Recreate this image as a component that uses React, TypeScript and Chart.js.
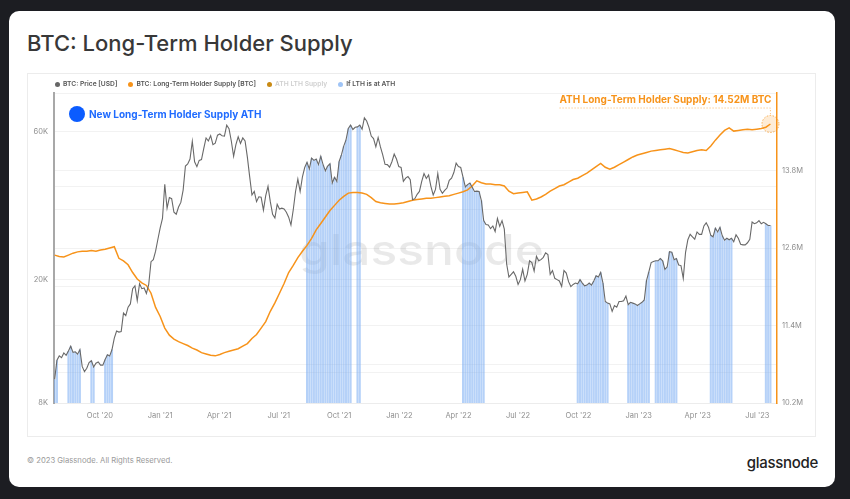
import React, { useEffect, useRef } from "react";
import { Chart, registerables } from "chart.js";
Chart.register(...registerables);

// ---------- data ----------
const START_DATE = [2020, 6, 24]; // first weekly sample (Jul 24, 2020)
const STEP_DAYS = 7;
const MID_OFFSET_DAYS = 3.5;
const X_MIN_DATE = [2020, 6, 23];
const X_MAX_DATE = [2023, 6, 31];
const QUARTER_TICKS = [
  [2020, 9, 1], [2021, 0, 1], [2021, 3, 1], [2021, 6, 1], [2021, 9, 1], [2022, 0, 1],
  [2022, 3, 1], [2022, 6, 1], [2022, 9, 1], [2023, 0, 1], [2023, 3, 1], [2023, 6, 1],
];
const MONTHS = ["Jan", "Feb", "Mar", "Apr", "May", "Jun", "Jul", "Aug", "Sep", "Oct", "Nov", "Dec"];

// BTC price [USD], weekly samples
const priceUSD = [
  9550, 11350, 11600, 11780, 11650, 11500, 10500, 10350, 10950, 10750,
  10600, 11050, 11350, 12950, 13550, 15600, 16300, 18700, 17100, 18700,
  18050, 22850, 24700, 29400, 40600, 36800, 33000, 34300, 38900, 47200,
  55900, 46300, 48800, 57300, 58300, 55100, 59000, 58100, 61400, 50000,
  57800, 57300, 49700, 37500, 35700, 36900, 37300, 35700, 31600, 33800,
  33800, 31800, 33600, 42200, 42900, 47800, 49300, 49000, 50000, 44900,
  47300, 42800, 48100, 53900, 61500, 61000, 62200, 61100, 65000, 58100,
  53600, 53600, 47100, 46100, 50800, 46300, 41500, 43000, 36200, 37700,
  41500, 42400, 40000, 39100, 39100, 38800, 41800, 44300, 46300, 42800,
  40500, 39700, 38600, 36000, 30100, 29200, 28600, 29700, 29100, 20400,
  21200, 19300, 21600, 20800, 22700, 23800, 23200, 24400, 20800, 20200,
  19800, 21400, 19700, 19300, 19400, 19500, 19200, 19200, 20600, 21100,
  17000, 16700, 16500, 17000, 17100, 16600, 16800, 16500, 16900, 19900,
  22700, 23000, 23400, 21600, 24600, 23200, 22300, 20200, 26900, 27500,
  28500, 28000, 30500, 27800, 29300, 29500, 26800, 26900, 26500, 27200,
  25900, 26300, 30700, 30500, 30300, 30300, 29900,
];

// BTC price [USD], mid-week samples (between weekly sample i and i+1)
const priceMidWeek = [
  11000, 11200, 11400, 12200, 11700, 11900, 10100, 10800, 10450, 10850,
  10600, 11450, 11900, 13650, 13600, 15300, 16700, 19100, 19400, 18800,
  19300, 23200, 27000, 31500, 34000, 36500, 32500, 35500, 46500, 49000,
  48000, 48500, 53000, 56000, 54500, 58500, 58200, 63000, 56000, 54500,
  55000, 56000, 43000, 38500, 37000, 33500, 40000, 32500, 35000, 34000,
  33000, 30000, 38500, 38500, 46000, 45500, 48500, 47000, 47000, 46500,
  41000, 41500, 50500, 56500, 63000, 62000, 63000, 66500, 62000, 57000,
  57500, 50500, 47000, 48000, 49000, 46000, 42500, 42000, 36500, 38500,
  44000, 43500, 37500, 44000, 38000, 39500, 42500, 47500, 46000, 39800,
  41000, 38500, 38500, 31000, 30000, 29800, 31500, 31000, 22500, 20800,
  20500, 20000, 19800, 23000, 21300, 23000, 23600, 24100, 21400, 20000,
  19000, 21000, 19000, 19500, 20000, 19100, 19500, 19800, 20400, 19500,
  16800, 15800, 16300, 17000, 17700, 16900, 16700, 16700, 17200, 21200,
  22900, 23000, 23000, 22000, 24500, 23400, 22200, 24500, 28000, 27000,
  28000, 29800, 29500, 27500, 28500, 27700, 27200, 27200, 27900, 26000,
  25900, 27000, 30300, 31000, 30600, 29900,
];

// Long-Term Holder supply [M BTC], weekly samples
const lthSupplyM = [
  12.49, 12.47, 12.46, 12.49, 12.52, 12.54, 12.55, 12.55, 12.56, 12.55,
  12.57, 12.58, 12.6, 12.62, 12.44, 12.4, 12.34, 12.22, 12.12, 12.06,
  12.02, 11.9, 11.68, 11.54, 11.36, 11.25, 11.19, 11.15, 11.12, 11.09,
  11.05, 11.02, 10.98, 10.96, 10.94, 10.93, 10.95, 10.98, 11.0, 11.02,
  11.04, 11.08, 11.12, 11.2, 11.26, 11.36, 11.46, 11.62, 11.75, 11.9,
  12.05, 12.22, 12.33, 12.45, 12.55, 12.64, 12.75, 12.88, 12.98, 13.08,
  13.18, 13.26, 13.34, 13.4, 13.45, 13.46, 13.46, 13.45, 13.43, 13.38,
  13.32, 13.3, 13.29, 13.28, 13.28, 13.29, 13.3, 13.32, 13.34, 13.35,
  13.36, 13.37, 13.37, 13.38, 13.39, 13.4, 13.41, 13.43, 13.45, 13.47,
  13.5, 13.56, 13.64, 13.61, 13.59, 13.59, 13.58, 13.58, 13.56, 13.48,
  13.44, 13.45, 13.46, 13.47, 13.34, 13.36, 13.39, 13.43, 13.48, 13.52,
  13.56, 13.58, 13.62, 13.66, 13.68, 13.72, 13.76, 13.81, 13.86, 13.91,
  13.85, 13.82, 13.85, 13.89, 13.93, 13.97, 14.01, 14.04, 14.06, 14.08,
  14.1, 14.11, 14.12, 14.13, 14.14, 14.12, 14.1, 14.08, 14.07, 14.09,
  14.11, 14.12, 14.11, 14.18, 14.27, 14.35, 14.42, 14.46, 14.41, 14.42,
  14.43, 14.44, 14.43, 14.44, 14.45, 14.47, 14.52,
];

// weeks (index ranges, inclusive) when LTH supply is at its ATH
const athWeekRanges = [
  [0, 0], [3, 5], [8, 8], [11, 12], [55, 64], [66, 66], [89, 93],
  [114, 120], [125, 129], [131, 135], [143, 147], [155, 156],
];

const ATH_VALUE_M = 14.52;
const LEFT_GRID = [8000, 10000, 20000, 40000, 60000];
const LEFT_LABELS: Record<number, string> = { 8000: "8K", 20000: "20K", 60000: "60K" };
const RIGHT_GRID = [10.2, 10.8, 11.4, 12.0, 12.6, 13.2, 13.8, 14.4, 15.0];
const RIGHT_LABELED = [10.2, 11.4, 12.6, 13.8];

// ---------- helpers ----------
const MS_DAY = 86400000;
const dayOf = (ymd: number[]) => Date.UTC(ymd[0], ymd[1], ymd[2]) / MS_DAY;
const weekDays = priceUSD.map((_, i) => dayOf(START_DATE) + i * STEP_DAYS);
const isAthWeek = (i: number) => athWeekRanges.some(([a, b]) => i >= a && i <= b);

type Sample = { x: number; y: number; ath: boolean };
const priceSamples: Sample[] = [];
priceUSD.forEach((p, i) => {
  priceSamples.push({ x: weekDays[i], y: p, ath: isAthWeek(i) });
  if (i < priceMidWeek.length) {
    priceSamples.push({ x: weekDays[i] + MID_OFFSET_DAYS, y: priceMidWeek[i], ath: isAthWeek(i) });
  }
});

const fmtQuarter = (v: number) => {
  const d = new Date(v * MS_DAY);
  return `${MONTHS[d.getUTCMonth()]} '${String(d.getUTCFullYear()).slice(2)}`;
};

const ORANGE = "#f7931a";
const TICK_FONT = { family: "Inter, 'Noto Sans', sans-serif", size: 7.5 };
const TICK_COLOR = "#8e8e8e";

const watermarkPlugin = {
  id: "watermark",
  beforeDatasetsDraw(chart: any) {
    const { ctx, chartArea } = chart;
    ctx.save();
    ctx.font = "500 42px Inter, 'Noto Sans', sans-serif";
    const w = ctx.measureText("glassnode").width;
    const target = 245;
    const cx = (chartArea.left + chartArea.right) / 2 + 6;
    const base = chartArea.top + 172;
    ctx.translate(cx, base);
    ctx.scale(target / w, 1);
    ctx.fillStyle = "rgba(0,0,0,0.085)";
    ctx.textAlign = "center";
    ctx.textBaseline = "alphabetic";
    ctx.fillText("glassnode", 0, 0);
    ctx.restore();
  },
};

const athMarkerPlugin = {
  id: "athMarker",
  afterDatasetsDraw(chart: any) {
    const { ctx } = chart;
    const lastDay = weekDays[weekDays.length - 1];
    const px = chart.scales.x.getPixelForValue(lastDay);
    const py = chart.scales.y1.getPixelForValue(ATH_VALUE_M);
    const r = 8.5;
    ctx.save();
    ctx.beginPath();
    ctx.arc(px, py, r, 0, Math.PI * 2);
    ctx.fillStyle = "rgba(247,147,26,0.18)";
    ctx.fill();
    ctx.setLineDash([1.5, 1.5]);
    ctx.strokeStyle = "rgba(247,147,26,0.7)";
    ctx.lineWidth = 1;
    ctx.stroke();
    const label = `ATH Long-Term Holder Supply: ${ATH_VALUE_M.toFixed(2)}M BTC`;
    ctx.setLineDash([]);
    ctx.font = "700 10px Inter, 'Noto Sans', sans-serif";
    ctx.fillStyle = ORANGE;
    ctx.textAlign = "right";
    ctx.textBaseline = "middle";
    const ty = py - 24;
    ctx.fillText(label, px + 1, ty);
    const tw = ctx.measureText(label).width;
    ctx.setLineDash([1.2, 1.8]);
    ctx.strokeStyle = "rgba(247,147,26,0.7)";
    ctx.lineWidth = 0.8;
    ctx.beginPath();
    ctx.moveTo(px + 1 - tw, ty + 8);
    ctx.lineTo(px, ty + 8);
    ctx.lineTo(px, py - r);
    ctx.stroke();
    ctx.restore();
  },
};

function LthChart() {
  const ref = useRef<HTMLCanvasElement | null>(null);
  useEffect(() => {
    if (!ref.current) return;
    const chart = new Chart(ref.current, {
      type: "line",
      data: {
        datasets: [
          {
            type: "line",
            label: "BTC: Price [USD]",
            data: priceSamples.map((s) => ({ x: s.x, y: s.y })),
            yAxisID: "y",
            borderColor: "#696969",
            borderWidth: 1.1,
            pointRadius: 0,
            tension: 0,
            order: 1,
          },
          {
            type: "line",
            label: "BTC: Long-Term Holder Supply [BTC]",
            data: weekDays.map((x, i) => ({ x, y: lthSupplyM[i] })),
            yAxisID: "y1",
            borderColor: ORANGE,
            borderWidth: 1.5,
            pointRadius: 0,
            tension: 0,
            order: 2,
          },
          {
            type: "bar",
            label: "If LTH is at ATH",
            data: priceSamples.map((s) => ({ x: s.x, y: s.ath ? s.y : null })),
            yAxisID: "y",
            backgroundColor: "rgba(120,172,242,0.55)",
            borderWidth: 0,
            barPercentage: 0.9,
            categoryPercentage: 1,
            order: 3,
          } as any,
        ],
      },
      options: {
        animation: false,
        responsive: true,
        maintainAspectRatio: false,
        events: [],
        layout: { padding: { top: 19, left: 0, right: 0, bottom: 0 } },
        plugins: { legend: { display: false }, tooltip: { enabled: false } },
        scales: {
          x: {
            type: "linear",
            min: dayOf(X_MIN_DATE),
            max: dayOf(X_MAX_DATE),
            offset: false,
            grid: { display: false, offset: false, drawTicks: false },
            border: { color: "#ececec" },
            afterBuildTicks: (s: any) => {
              s.ticks = QUARTER_TICKS.map((q) => ({ value: dayOf(q) }));
            },
            ticks: {
              callback: (v: any) => fmtQuarter(Number(v)),
              font: TICK_FONT,
              color: TICK_COLOR,
              padding: 8,
              maxRotation: 0,
              autoSkip: false,
            },
            afterFit: (s: any) => {
              s.height = 34;
            },
          },
          y: {
            type: "logarithmic",
            position: "left",
            min: 8000,
            max: 80000,
            afterBuildTicks: (s: any) => {
              s.ticks = LEFT_GRID.map((v) => ({ value: v }));
            },
            ticks: {
              callback: (v: any) => LEFT_LABELS[Number(v)] ?? "",
              font: TICK_FONT,
              color: TICK_COLOR,
              padding: 6,
              autoSkip: false,
            },
            grid: { color: "#f2f2f2", drawTicks: false },
            border: { color: "#a8a8a8", width: 2 },
            afterFit: (s: any) => {
              s.width = 26;
            },
          },
          y1: {
            type: "linear",
            position: "right",
            min: 10.2,
            max: 15.0,
            afterBuildTicks: (s: any) => {
              s.ticks = RIGHT_GRID.map((v) => ({ value: v }));
            },
            ticks: {
              callback: (v: any) =>
                RIGHT_LABELED.some((l) => Math.abs(l - Number(v)) < 1e-6) ? `${Number(v).toFixed(1)}M` : "",
              font: TICK_FONT,
              color: TICK_COLOR,
              padding: 5,
              autoSkip: false,
            },
            grid: { color: "#f2f2f2", drawTicks: false },
            border: { color: ORANGE, width: 1.5 },
            afterFit: (s: any) => {
              s.width = 39;
            },
          },
        },
      } as any,
      plugins: [watermarkPlugin, athMarkerPlugin],
    });
    return () => chart.destroy();
  }, []);
  return <canvas ref={ref} />;
}

const LEGEND_ITEMS = [
  { label: "BTC: Price [USD]", dot: "#666666", text: "#555555" },
  { label: "BTC: Long-Term Holder Supply [BTC]", dot: ORANGE, text: "#555555" },
  { label: "ATH LTH Supply", dot: "#c98a14", text: "#cfcfcf" },
  { label: "If LTH is at ATH", dot: "#9fc4f6", text: "#555555" },
];

export default function App() {
  const font = "Inter, 'Noto Sans', sans-serif";
  return (
    <div
      style={{
        position: "relative",
        width: 850,
        height: 499,
        background: "#1c1d22",
        overflow: "hidden",
        fontFamily: font,
      }}
    >
      <style>{`body{margin:0;background:#1c1d22}`}</style>
      <div
        style={{ position: "absolute", left: 9, top: 11, width: 826, height: 476, background: "#fff", borderRadius: 10 }}
      />
      <div
        style={{
          position: "absolute",
          left: 27,
          top: 29,
          fontSize: 22,
          fontWeight: 500,
          lineHeight: "28px",
          color: "#383838",
          whiteSpace: "nowrap",
        }}
      >
        BTC: Long-Term Holder Supply
      </div>
      <div
        style={{
          position: "absolute",
          left: 27,
          top: 73,
          width: 789,
          height: 364,
          border: "1px solid #ececec",
          boxSizing: "border-box",
        }}
      />
      <div style={{ position: "absolute", left: 28, top: 74, width: 788, height: 363 }}>
        <LthChart />
      </div>
      <div
        style={{
          position: "absolute",
          left: 55,
          top: 79,
          height: 10,
          display: "flex",
          alignItems: "center",
          fontSize: 6.7,
          fontWeight: 600,
          whiteSpace: "nowrap",
        }}
      >
        {LEGEND_ITEMS.map((it) => (
          <div key={it.label} style={{ display: "flex", alignItems: "center", marginRight: 11 }}>
            <span
              style={{ width: 5, height: 5, borderRadius: "50%", background: it.dot, marginRight: 3, display: "inline-block" }}
            />
            <span style={{ color: it.text }}>{it.label}</span>
          </div>
        ))}
      </div>
      <div
        style={{ position: "absolute", left: 69, top: 106, width: 16, height: 16, borderRadius: "50%", background: "#0b5cff" }}
      />
      <div
        style={{
          position: "absolute",
          left: 89,
          top: 107,
          fontSize: 10,
          lineHeight: "14px",
          fontWeight: 700,
          color: "#1f6bff",
          whiteSpace: "nowrap",
        }}
      >
        New Long-Term Holder Supply ATH
      </div>
      <div
        style={{ position: "absolute", left: 27, top: 455, fontSize: 7.7, lineHeight: "12px", color: "#9a9a9a", whiteSpace: "nowrap" }}
      >
        © 2023 Glassnode. All Rights Reserved.
      </div>
      <div
        style={{
          position: "absolute",
          right: 32,
          top: 453,
          fontSize: 15,
          lineHeight: "20px",
          fontWeight: 500,
          color: "#222",
          letterSpacing: -0.3,
          whiteSpace: "nowrap",
        }}
      >
        glassnode
      </div>
    </div>
  );
}
